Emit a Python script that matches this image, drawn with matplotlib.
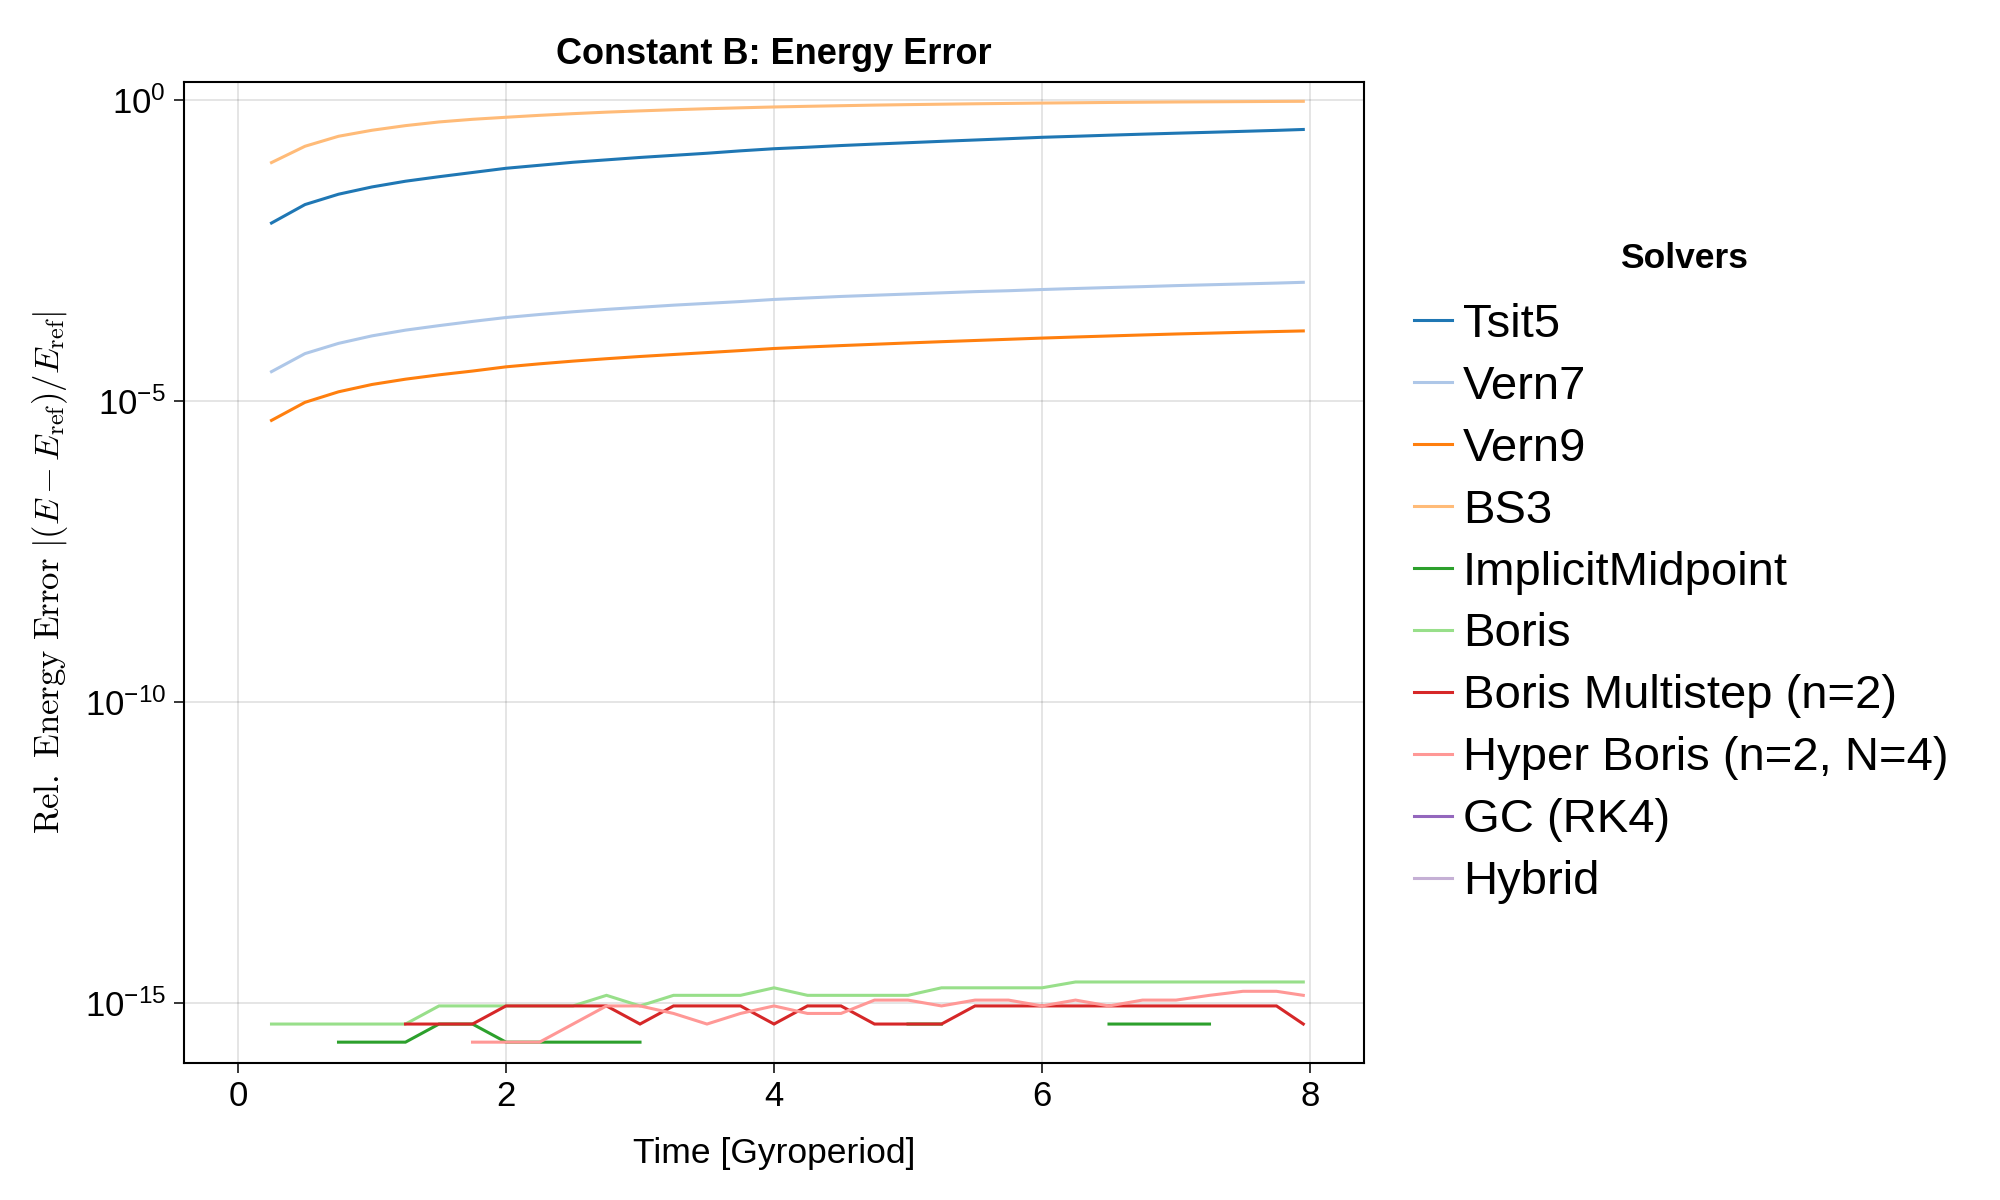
import numpy as np
import matplotlib
matplotlib.use("Agg")
import matplotlib.pyplot as plt
from matplotlib.ticker import NullLocator, FixedLocator

plt.rcParams['font.family'] = ['Liberation Sans', 'DejaVu Sans']
plt.rcParams['mathtext.fontset'] = 'custom'
plt.rcParams['mathtext.rm'] = 'Liberation Sans'
plt.rcParams['mathtext.it'] = 'Liberation Sans:italic'
plt.rcParams['mathtext.bf'] = 'Liberation Sans:bold'

# ---------------- data ----------------
time = [0.25, 0.5, 0.75, 1.0, 1.25, 1.5, 1.75, 2.0, 2.25, 2.5, 2.75, 3.0,
        3.25, 3.5, 3.75, 4.0, 4.25, 4.5, 4.75, 5.0, 5.25, 5.5, 5.75, 6.0,
        6.25, 6.5, 6.75, 7.0, 7.25, 7.5, 7.75, 7.95]

# log10 of relative energy error
tsit5_log10 = [-2.04, -1.733, -1.561, -1.44, -1.345, -1.27, -1.20, -1.13,
               -1.08, -1.03, -0.99, -0.95, -0.915, -0.88, -0.84, -0.805,
               -0.78, -0.752, -0.728, -0.705, -0.682, -0.66, -0.638, -0.615,
               -0.598, -0.58, -0.563, -0.547, -0.532, -0.516, -0.5, -0.485]
vern7_log10 = [-4.51, -4.21, -4.04, -3.915, -3.82, -3.745, -3.675, -3.61,
               -3.56, -3.515, -3.475, -3.44, -3.405, -3.375, -3.345, -3.31,
               -3.285, -3.26, -3.24, -3.22, -3.2, -3.18, -3.165, -3.145,
               -3.128, -3.112, -3.097, -3.08, -3.066, -3.052, -3.038, -3.025]
vern9_log10 = [-5.32, -5.02, -4.845, -4.723, -4.635, -4.563, -4.5, -4.43,
               -4.38, -4.335, -4.295, -4.258, -4.225, -4.193, -4.16, -4.125,
               -4.1, -4.077, -4.055, -4.033, -4.012, -3.992, -3.972, -3.952,
               -3.934, -3.917, -3.9, -3.884, -3.87, -3.856, -3.843, -3.833]
bs3_log10 = [-1.035, -0.764, -0.598, -0.498, -0.421, -0.36, -0.316, -0.282,
             -0.25, -0.222, -0.197, -0.176, -0.157, -0.14, -0.125, -0.111,
             -0.1, -0.09, -0.08, -0.072, -0.065, -0.058, -0.052, -0.046,
             -0.041, -0.036, -0.032, -0.028, -0.025, -0.022, -0.019, -0.017]

# near round-off solvers, in units of machine epsilon (0 = exactly zero error)
implicit_midpoint_eps = [0, 0, 1, 1, 1, 2, 2, 1, 1, 1, 1, 1,
                         0, 0, 0, 0, 0, 0, 0, 2, 2, 0, 0, 0,
                         0, 2, 2, 2, 2, 0, 0, 0]
boris_eps = [2, 2, 2, 2, 2, 4, 4, 4, 4, 4, 6, 4,
             6, 6, 6, 8, 6, 6, 6, 6, 8, 8, 8, 8,
             10, 10, 10, 10, 10, 10, 10, 10]
boris_multistep_eps = [0, 0, 0, 0, 2, 2, 2, 4, 4, 4, 4, 2,
                       4, 4, 4, 2, 4, 4, 2, 2, 2, 4, 4, 4,
                       4, 4, 4, 4, 4, 4, 4, 2]
hyper_boris_eps = [0, 0, 0, 0, 0, 0, 1, 1, 1, 2, 4, 4,
                   3, 2, 3, 4, 3, 3, 5, 5, 4, 5, 5, 4,
                   5, 4, 5, 5, 6, 7, 7, 6]
gc_rk4 = []
hybrid = []

solver_names = ["Tsit5", "Vern7", "Vern9", "BS3", "ImplicitMidpoint", "Boris",
                "Boris Multistep (n=2)", "Hyper Boris (n=2, N=4)", "GC (RK4)", "Hybrid"]
colors = ["#1f77b4", "#aec7e8", "#ff7f0e", "#ffbb78", "#2ca02c", "#98df8a",
          "#d62728", "#ff9896", "#9467bd", "#c5b0d5"]

eps = np.finfo(float).eps
t = np.array(time)


def from_log(v):
    return 10.0 ** np.array(v)


def from_eps(v):
    a = np.array(v, dtype=float)
    return np.where(a > 0, a * eps, np.nan)


series = [
    (t, from_log(tsit5_log10)),
    (t, from_log(vern7_log10)),
    (t, from_log(vern9_log10)),
    (t, from_log(bs3_log10)),
    (t, from_eps(implicit_midpoint_eps)),
    (t, from_eps(boris_eps)),
    (t, from_eps(boris_multistep_eps)),
    (t, from_eps(hyper_boris_eps)),
    (np.array(gc_rk4, dtype=float), np.array(gc_rk4, dtype=float)),
    (np.array(hybrid, dtype=float), np.array(hybrid, dtype=float)),
]

# ---------------- figure ----------------
W, H = 2000, 1200
fig = plt.figure(figsize=(20, 12), dpi=100)
ax_l, ax_r, ax_t, ax_b = 184, 1364, 82, 1063
ax = fig.add_axes([ax_l / W, 1 - ax_b / H, (ax_r - ax_l) / W, (ax_b - ax_t) / H])

lines = []
for (x, y), name, c in zip(series, solver_names, colors):
    ln, = ax.plot(x, y, color=c, lw=2.2, label=name, solid_joinstyle='miter')
    lines.append(ln)

ax.set_yscale('log')
ax.set_xlim(-0.403, 8.403)
ax.set_ylim(10 ** -16.0, 10 ** 0.304)

ax.xaxis.set_major_locator(FixedLocator([0, 2, 4, 6, 8]))
ax.set_xticklabels(["0", "2", "4", "6", "8"])
ax.yaxis.set_major_locator(FixedLocator([1e0, 1e-5, 1e-10, 1e-15]))
ax.set_yticklabels([r"$10^{0}$", r"$10^{-5}$", r"$10^{-10}$", r"$10^{-15}$"])
ax.yaxis.set_minor_locator(NullLocator())
ax.xaxis.set_minor_locator(NullLocator())

ax.tick_params(axis='both', which='major', direction='out', length=7, width=1.1,
               labelsize=25, color='black')
ax.tick_params(axis='x', pad=5)
ax.tick_params(axis='y', pad=6)
for sp in ax.spines.values():
    sp.set_linewidth(1.5)

ax.grid(True, which='major', color='black', alpha=0.12, lw=1.2)
ax.set_axisbelow(True)

ax.set_xlabel("Time [Gyroperiod]", fontsize=25.5)
ax.xaxis.label.set_va('center')
ax.xaxis.set_label_coords(0.5, (ax_b - 1154) / (ax_b - ax_t))

ylab = ax.set_ylabel(r"$\mathrm{Rel.\ Energy\ Error}\ |(E - E_{\mathrm{ref}})/E_{\mathrm{ref}}|$",
                     fontsize=25)
ylab.set_math_fontfamily('cm')
ax.yaxis.label.set_va('center')
ax.yaxis.set_label_coords((50 - ax_l) / (ax_r - ax_l), 0.5)

fig.text((ax_l + ax_r) / 2 / W, 1 - 54 / H, "Constant B: Energy Error",
         fontsize=26, fontweight='bold', ha='center', va='center')

# legend
fig.text(1684 / W, 1 - 259 / H, "Solvers", fontsize=25.5, fontweight='bold',
         ha='center', va='center')
leg = fig.legend(handles=lines, loc='center left',
                 bbox_to_anchor=(1414 / W, 1 - 603.5 / H),
                 frameon=False, fontsize=34, handlelength=0.8,
                 handletextpad=0.23, labelspacing=0.38, borderpad=0,
                 borderaxespad=0)

fig.savefig("out.png", dpi=100)
